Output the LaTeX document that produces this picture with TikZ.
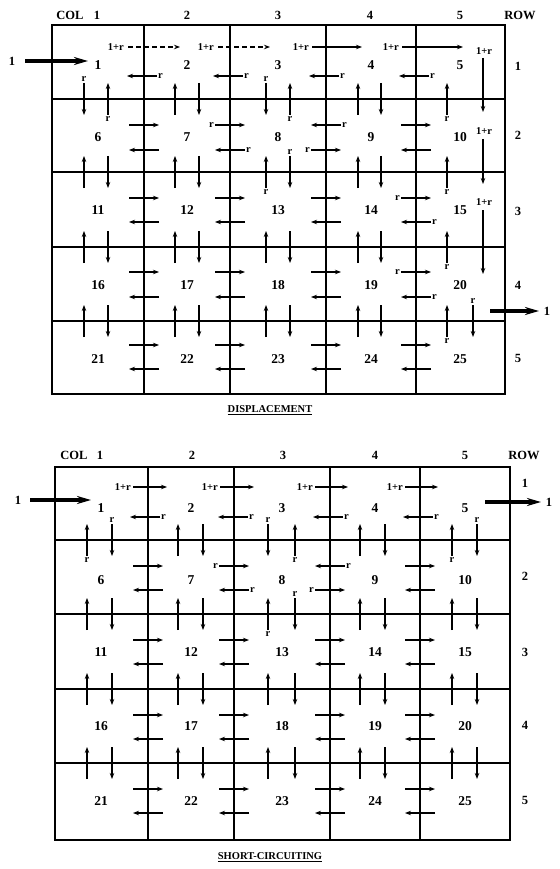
\documentclass[tikz,border=0pt]{standalone}
\usepackage{fontspec}
\setmainfont{Liberation Serif}
\usetikzlibrary{arrows.meta}
\tikzset{
  gridline/.style={line width=2pt},
  flow/.style={line width=1.6pt,-{Stealth[length=6pt,width=4.5pt]}},
  dflow/.style={flow,dash pattern=on 5pt off 3pt},
  big/.style={line width=3.2pt,-{Stealth[length=14pt,width=8pt]}},
  num/.style={font=\bfseries\fontsize{13.5}{13.5}\selectfont,inner sep=0pt},
  lab/.style={font=\bfseries\fontsize{10.5}{10.5}\selectfont,inner sep=1pt},
  hdr/.style={font=\bfseries\fontsize{12.5}{12.5}\selectfont,inner sep=0pt},
  ttl/.style={font=\bfseries\fontsize{10.5}{10.5}\selectfont,inner sep=0pt}
}
\newcommand\HR[2]{\draw[flow] ({#1-15},#2) -- ({#1+15},#2);}
\newcommand\HL[2]{\draw[flow] ({#1+15},#2) -- ({#1-15},#2);}
\newcommand\HRr[2]{\HR{#1}{#2}\node[lab,anchor=east] at ({#1-15},#2) {r};}
\newcommand\HLr[2]{\HL{#1}{#2}\node[lab,anchor=west] at ({#1+15},#2) {r};}
\newcommand\VU[2]{\draw[flow] (#1,{#2+16}) -- (#1,{#2-16});}
\newcommand\VD[2]{\draw[flow] (#1,{#2-16}) -- (#1,{#2+16});}
\newcommand\VUr[2]{\VU{#1}{#2}\node[lab,anchor=north] at (#1,{#2+16}) {r};}
\newcommand\VDr[2]{\VD{#1}{#2}\node[lab,anchor=south] at (#1,{#2-16}) {r};}
\newcommand\HP[3]{\HR{#1}{#2}\HL{#1}{#3}}
\newcommand\VP[3]{\VU{#1}{#3}\VD{#2}{#3}}
\begin{document}
\begin{tikzpicture}[x=1pt,y=-1pt]
\useasboundingbox (0,0) rectangle (559,869);
\fill[white] (0,0) rectangle (559,869);

%================ TOP GRID : DISPLACEMENT =================
\draw[gridline] (52,25) rectangle (505,394);
\foreach \x in {144,230,326,416} \draw[gridline] (\x,25) -- (\x,394);
\foreach \y in {99,172,247,321} \draw[gridline] (52,\y) -- (505,\y);

% headers
\node[hdr] (tcol) at (70,15) {COL};
\foreach \c/\x in {1/97,2/187,3/278,4/370,5/460} \node[hdr] (tc\c) at (\x,15) {\c};
\node[hdr] (trow) at (520,15) {ROW};
\foreach \r/\y in {1/66,2/135,3/211,4/285,5/358} \node[hdr] (tr\r) at (518,\y) {\r};

% cell numbers
\foreach \c/\x in {1/98,2/187,3/278,4/371,5/460}{
  \foreach \r/\y in {1/65,2/137,3/210,4/285,5/359}{
    \pgfmathtruncatemacro\n{(\r-1)*5+\c}
    \node[num] (t\n) at (\x,\y) {\n};
  }
}

% inlet / outlet
\node[hdr] (tin) at (12,61) {1};
\coordinate (tinA) at (25,61); \coordinate (tinB) at (88,61);
\draw[big] (tinA) -- (tinB);
\coordinate (toutA) at (490,311); \coordinate (toutB) at (539,311);
\draw[big] (toutA) -- (toutB);
\node[hdr] (tout) at (547,311) {1};

% row 1 horizontal flows
\node[lab,anchor=east] at (125,47) {1+r}; \draw[dflow] (128,47) -- (180,47);
\node[lab,anchor=east] at (215,47) {1+r}; \draw[dflow] (218,47) -- (270,47);
\node[lab,anchor=east] at (310,47) {1+r}; \draw[flow] (312,47) -- (362,47);
\node[lab,anchor=east] at (400,47) {1+r}; \draw[flow] (402,47) -- (463,47);
\HLr{142}{76}\HLr{228}{76}\HLr{324}{76}\HLr{414}{76}

% the 1+r column down cells 5,10,15 -> 20
\node[lab] at (484,51) {1+r}; \draw[flow] (483,58) -- (483,112);
\node[lab] at (484,131) {1+r}; \draw[flow] (483,139) -- (483,184);
\node[lab] at (484,202) {1+r}; \draw[flow] (483,210) -- (483,274);

% rows 2-5 horizontal flows
\HP{144}{125}{150}\HRr{230}{125}\HLr{230}{150}\HL{326}{125}\node[lab,anchor=west] at (341,125) {r};\HR{326}{150}\node[lab,anchor=east] at (311,150) {r};\HP{416}{125}{150}
\HP{144}{198}{222}\HP{230}{198}{222}\HP{326}{198}{222}\HRr{416}{198}\HLr{416}{222}
\HP{144}{272}{297}\HP{230}{272}{297}\HP{326}{272}{297}\HRr{416}{272}\HLr{416}{297}
\HP{144}{345}{369}\HP{230}{345}{369}\HP{326}{345}{369}\HP{416}{345}{369}

% vertical flows
\VDr{84}{99}\VUr{108}{99}\VP{175}{199}{99}\VDr{266}{99}\VUr{290}{99}\VP{358}{381}{99}\VUr{447}{99}
\VP{84}{108}{172}\VP{175}{199}{172}\VUr{266}{172}\VDr{290}{172}\VP{358}{381}{172}\VUr{447}{172}
\VP{84}{108}{247}\VP{175}{199}{247}\VP{266}{290}{247}\VP{358}{381}{247}\VUr{447}{247}
\VP{84}{108}{321}\VP{175}{199}{321}\VP{266}{290}{321}\VP{358}{381}{321}\VUr{447}{321}\VDr{473}{321}

\node[ttl] (title1) at (270,410) {\underline{DISPLACEMENT}};

%================ BOTTOM GRID : SHORT-CIRCUITING =================
\draw[gridline] (55,467) rectangle (510,840);
\foreach \x in {148,234,330,420} \draw[gridline] (\x,467) -- (\x,840);
\foreach \y in {540,614,689,763} \draw[gridline] (55,\y) -- (510,\y);

\node[hdr] (bcol) at (74,455) {COL};
\foreach \c/\x in {1/100,2/192,3/283,4/375,5/465} \node[hdr] (bc\c) at (\x,455) {\c};
\node[hdr] (brow) at (524,455) {ROW};
\foreach \r/\y in {1/483,2/576,3/652,4/725,5/800} \node[hdr] (br\r) at (525,\y) {\r};

\foreach \c/\x in {1/101,2/191,3/282,4/375,5/465}{
  \foreach \r/\y in {1/508,2/580,3/652,4/726,5/801}{
    \pgfmathtruncatemacro\n{(\r-1)*5+\c}
    \node[num] (b\n) at (\x,\y) {\n};
  }
}

\node[hdr] (bin) at (18,500) {1};
\coordinate (binA) at (30,500); \coordinate (binB) at (91,500);
\draw[big] (binA) -- (binB);
\coordinate (boutA) at (485,502); \coordinate (boutB) at (541,502);
\draw[big] (boutA) -- (boutB);
\node[hdr] (bout) at (549,502) {1};

% row 1
\node[lab,anchor=east] at (132,487) {1+r}; \draw[flow] (133,487) -- (167,487);
\node[lab,anchor=east] at (219,487) {1+r}; \draw[flow] (220,487) -- (254,487);
\node[lab,anchor=east] at (314,487) {1+r}; \draw[flow] (315,487) -- (348,487);
\node[lab,anchor=east] at (404,487) {1+r}; \draw[flow] (405,487) -- (438,487);
\HLr{145}{517}\HLr{233}{517}\HLr{328}{517}\HLr{418}{517}

% rows 2-5
\HP{148}{566}{590}\HRr{234}{566}\HLr{234}{590}\HL{330}{566}\node[lab,anchor=west] at (345,566) {r};\HR{330}{590}\node[lab,anchor=east] at (315,590) {r};\HP{420}{566}{590}
\HP{148}{640}{664}\HP{234}{640}{664}\HP{330}{640}{664}\HP{420}{640}{664}
\HP{148}{715}{739}\HP{234}{715}{739}\HP{330}{715}{739}\HP{420}{715}{739}
\HP{148}{789}{813}\HP{234}{789}{813}\HP{330}{789}{813}\HP{420}{789}{813}

% verticals
\VUr{87}{540}\VDr{112}{540}\VP{178}{203}{540}\VDr{268}{540}\VUr{295}{540}\VP{360}{385}{540}\VUr{452}{540}\VDr{477}{540}
\VP{87}{112}{614}\VP{178}{203}{614}\VUr{268}{614}\VDr{295}{614}\VP{360}{385}{614}\VP{452}{477}{614}
\VP{87}{112}{689}\VP{178}{203}{689}\VP{268}{295}{689}\VP{360}{385}{689}\VP{452}{477}{689}
\VP{87}{112}{763}\VP{178}{203}{763}\VP{268}{295}{763}\VP{360}{385}{763}\VP{452}{477}{763}

\node[ttl] (title2) at (270,857) {\underline{SHORT-CIRCUITING}};
\end{tikzpicture}
\end{document}
